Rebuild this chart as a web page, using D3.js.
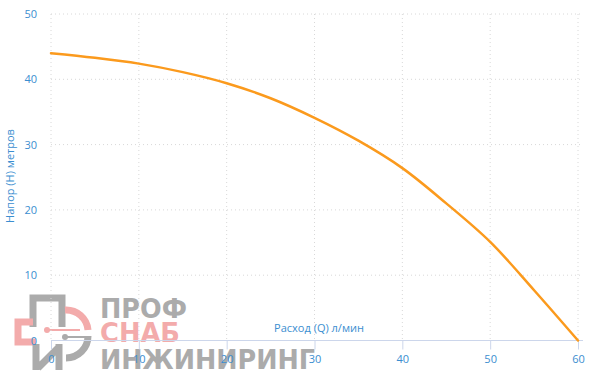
<!DOCTYPE html>
<html>
<head>
<meta charset="utf-8">
<script src="https://cdn.jsdelivr.net/npm/d3@7"></script>
<style>
  body { margin: 0; background: #fff; }
  svg { display: block; font-family: "Open Sans", sans-serif; }
</style>
</head>
<body>
<div id="chart"></div>
<script>
// flow (l/min) and head (m)
var flow = [0, 5, 10, 15, 20, 25, 30, 35, 40, 45, 50, 55, 60];
var head = [44.0, 43.3, 42.4, 41.1, 39.4, 37.1, 34.1, 30.6, 26.4, 21.0, 15.1, 7.7, 0];
var xTicks = [0, 10, 20, 30, 40, 50, 60];
var yTicks = [0, 10, 20, 30, 40, 50];

var width = 600, height = 390;
var labelColor = "#3b8ed0";

var svg = d3.select("#chart").append("svg")
    .attr("width", width)
    .attr("height", height);

var x = d3.scaleLinear().domain([0, 60]).range([51, 578]);
var y = d3.scaleLinear().domain([0, 50]).range([340.5, 14]);
var plotRight = 583;

// watermark logo, sits behind everything
var logo = svg.append("g");
var grey = "#ababab", pink = "#f3abab";
logo.append("path")
    .attr("d", "M33,327 V298 H62 V327")
    .attr("fill", "none").attr("stroke", grey).attr("stroke-width", 7);
logo.append("path")
    .attr("d", "M33,322 H18 V342 H36")
    .attr("fill", "none").attr("stroke", pink).attr("stroke-width", 7);
logo.append("path")
    .attr("d", "M36,344 V370 M59,344 V370 M59,347 L38,368")
    .attr("fill", "none").attr("stroke", grey).attr("stroke-width", 7);
logo.append("path")
    .attr("d", "M65,310 A22,22 0 0 1 88,330")
    .attr("fill", "none").attr("stroke", pink).attr("stroke-width", 7);
logo.append("path")
    .attr("d", "M88,336 A22,22 0 0 1 66,358")
    .attr("fill", "none").attr("stroke", grey).attr("stroke-width", 7);
logo.append("line").attr("x1", 47).attr("y1", 330).attr("x2", 80).attr("y2", 330)
    .attr("stroke", pink).attr("stroke-width", 2);
logo.append("circle").attr("cx", 47).attr("cy", 330).attr("r", 3).attr("fill", pink);
logo.append("line").attr("x1", 65).attr("y1", 337).attr("x2", 86).attr("y2", 337)
    .attr("stroke", grey).attr("stroke-width", 2);
logo.append("circle").attr("cx", 65).attr("cy", 337).attr("r", 3).attr("fill", grey);

var logoText = [
    {t: "ПРОФ", y: 318, w: 87, c: grey},
    {t: "СНАБ", y: 342, w: 80, c: pink},
    {t: "ИНЖИНИРИНГ", y: 369, w: 215, c: grey}
];
logo.selectAll("text.logo").data(logoText).enter().append("text")
    .attr("class", "logo")
    .attr("x", 100)
    .attr("y", function(d){ return d.y; })
    .attr("textLength", function(d){ return d.w; })
    .attr("lengthAdjust", "spacingAndGlyphs")
    .attr("font-family", "DejaVu Sans")
    .attr("font-weight", "bold")
    .attr("font-size", 26)
    .attr("fill", function(d){ return d.c; })
    .text(function(d){ return d.t; });

// grid lines
svg.append("g").selectAll("line").data(yTicks.filter(function(d){ return d > 0; }))
    .enter().append("line")
    .attr("x1", x(0)).attr("x2", plotRight)
    .attr("y1", function(d){ return y(d); })
    .attr("y2", function(d){ return y(d); })
    .attr("stroke", "#d8d8d8")
    .attr("stroke-dasharray", "1,3");

svg.append("g").selectAll("line").data(xTicks)
    .enter().append("line")
    .attr("x1", function(d){ return x(d); })
    .attr("x2", function(d){ return x(d); })
    .attr("y1", y(50)).attr("y2", y(0))
    .attr("stroke", "#d8d8d8")
    .attr("stroke-dasharray", "1,3");

// x axis
var xAxis = svg.append("g")
    .attr("transform", "translate(0," + y(0) + ")")
    .call(d3.axisBottom(x).tickValues(xTicks).tickSize(9).tickPadding(6));
xAxis.select(".domain").attr("d", "M" + x(0) + ",0H" + plotRight).attr("stroke", "#ccd6eb");
xAxis.selectAll(".tick line").attr("stroke", "#ccd6eb");
xAxis.selectAll("text").attr("fill", labelColor).attr("font-size", 11)
    .attr("font-family", "Open Sans");

// y axis (labels only)
var yAxis = svg.append("g")
    .attr("transform", "translate(" + x(0) + ",0)")
    .call(d3.axisLeft(y).tickValues(yTicks).tickSize(0).tickPadding(14));
yAxis.select(".domain").remove();
yAxis.selectAll("text").attr("fill", labelColor).attr("font-size", 11)
    .attr("font-family", "Open Sans");

// axis titles
svg.append("text")
    .attr("x", 319).attr("y", 332)
    .attr("text-anchor", "middle")
    .attr("fill", labelColor)
    .attr("font-size", 11)
    .text("Расход (Q) л/мин");

svg.append("text")
    .attr("transform", "translate(10,176) rotate(-90)")
    .attr("text-anchor", "middle")
    .attr("dy", "0.35em")
    .attr("fill", labelColor)
    .attr("font-size", 11)
    .text("Напор (H) метров");

// pump curve
var line = d3.line()
    .x(function(d, i){ return x(flow[i]); })
    .y(function(d){ return y(d); })
    .curve(d3.curveCatmullRom);

svg.append("path")
    .datum(head)
    .attr("d", line)
    .attr("fill", "none")
    .attr("stroke", "#fb9a1d")
    .attr("stroke-width", 2.5)
    .attr("stroke-linecap", "round");
</script>
</body>
</html>
